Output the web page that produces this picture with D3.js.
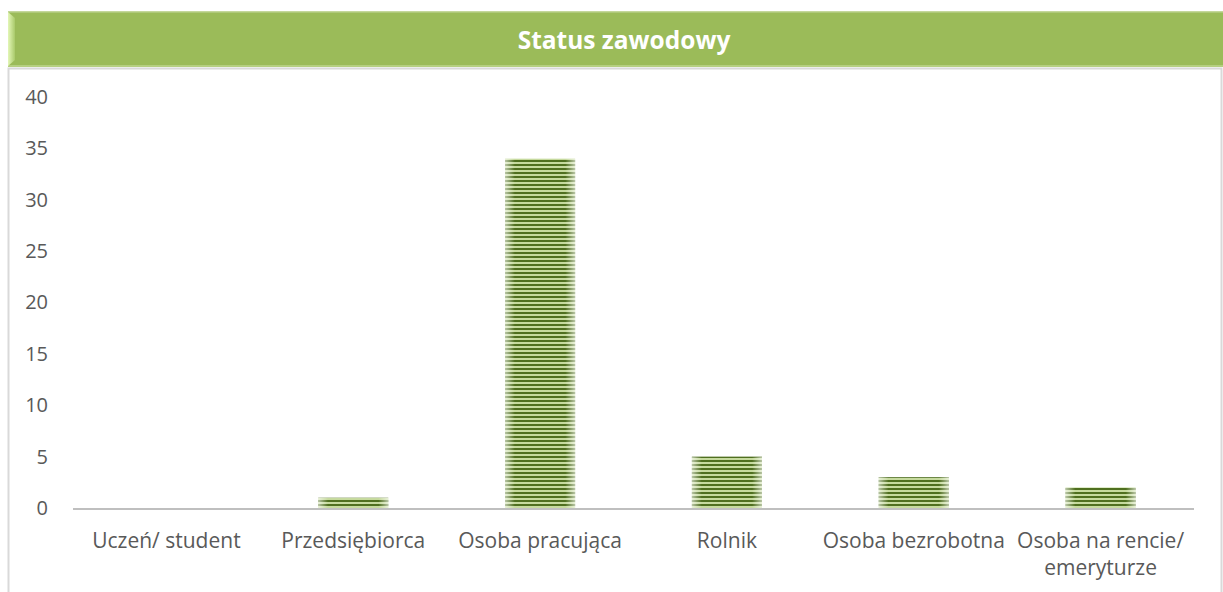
<!DOCTYPE html>
<html>
<head>
<meta charset="utf-8">
<script src="https://cdn.jsdelivr.net/npm/d3@7"></script>
<style>
  body { margin: 0; background: #fff; }
  text { font-family: "Open Sans", "Noto Sans", sans-serif; }
</style>
</head>
<body>
<div id="chart"></div>
<script>
(function(){

    // Data
    const categories = ["Uczeń/ student", "Przedsiębiorca", "Osoba pracująca", "Rolnik", "Osoba bezrobotna", "Osoba na rencie/ emeryturze"];
    const values = [0, 1, 34, 5, 3, 2];
    const yTicks = [0, 5, 10, 15, 20, 25, 30, 35, 40];
    const title = "Status zawodowy";

    const width = 1223, height = 592;
    const margin = {left: 73, right: 29, top: 97, bottom: 84};

    let svg = d3.select("#chart")
        .append("svg")
        .attr("width", width)
        .attr("height", height);

    let defs = svg.append("defs");

    // striped fill for bars
    let pat = defs.append("pattern")
        .attr("id", "stripes")
        .attr("patternUnits", "userSpaceOnUse")
        .attr("width", 8)
        .attr("height", 4);
    pat.append("rect").attr("width", 8).attr("height", 4).attr("fill", "#c6da9e");
    pat.append("rect").attr("width", 8).attr("height", 2).attr("fill", "#4f6f1f");

    // soft edges on bars
    let edge = defs.append("linearGradient").attr("id", "edge");
    edge.append("stop").attr("offset", "0%").attr("stop-color", "#fff").attr("stop-opacity", 0.6);
    edge.append("stop").attr("offset", "14%").attr("stop-color", "#fff").attr("stop-opacity", 0);
    edge.append("stop").attr("offset", "86%").attr("stop-color", "#fff").attr("stop-opacity", 0);
    edge.append("stop").attr("offset", "100%").attr("stop-color", "#fff").attr("stop-opacity", 0.6);

    // title banner bevel
    let bev = defs.append("linearGradient").attr("id", "bevel")
        .attr("x1", 0).attr("x2", 1).attr("y1", 0).attr("y2", 0);
    bev.append("stop").attr("offset", "0%").attr("stop-color", "#e4f7b8");
    bev.append("stop").attr("offset", "100%").attr("stop-color", "#a9c96a");

    // plot frame
    svg.append("rect")
        .attr("x", 8.5).attr("y", 68.5)
        .attr("width", 1213).attr("height", 540)
        .attr("fill", "#fff")
        .attr("stroke", "#d9d9d9")
        .attr("stroke-width", 2);

    // title banner
    svg.append("rect")
        .attr("x", 8).attr("y", 11)
        .attr("width", 1215).attr("height", 56)
        .attr("fill", "#9bbb59");
    svg.append("rect")
        .attr("x", 8).attr("y", 11)
        .attr("width", 1215).attr("height", 1.5)
        .attr("fill", "#c4d79b");
    svg.append("rect")
        .attr("x", 8).attr("y", 65)
        .attr("width", 1215).attr("height", 2)
        .attr("fill", "#b5cf80");
    svg.append("path")
        .attr("d", "M8,12 L15,18 L15,60 L8,66 Z")
        .attr("fill", "url(#bevel)");

    svg.append("text")
        .attr("x", 624)
        .attr("y", 40)
        .attr("dy", "0.35em")
        .attr("text-anchor", "middle")
        .attr("fill", "#fff")
        .style("font-size", "24.5px")
        .style("font-weight", "bold")
        .text(title);

    let g = svg.append("g");

    // scales
    let x = d3.scaleBand()
        .domain(categories)
        .range([margin.left, width - margin.right])
        .paddingInner(0.625)
        .paddingOuter(0.3125);

    let y = d3.scaleLinear()
        .domain([0, 40])
        .range([height - margin.bottom, margin.top]);

    // y tick labels
    g.append("g")
        .call(d3.axisLeft(y).tickValues(yTicks).tickSize(0).tickPadding(0))
        .attr("transform", `translate(48, 0)`)
        .call(a => a.select(".domain").remove())
        .selectAll("text")
        .attr("fill", "#595959")
        .style("font-size", "20px")
        .style("font-family", "'Open Sans', sans-serif");

    // bars
    let bars = g.selectAll(".bar").data(values);
    bars.enter()
        .append("rect")
        .attr("x", function(d, i) { return x(categories[i]); })
        .attr("y", function(d) { return y(d); })
        .attr("width", x.bandwidth())
        .attr("height", function(d) { return y(0) - y(d); })
        .attr("fill", "url(#stripes)");
    bars.enter()
        .append("rect")
        .attr("x", function(d, i) { return x(categories[i]); })
        .attr("y", function(d) { return y(d); })
        .attr("width", x.bandwidth())
        .attr("height", function(d) { return y(0) - y(d); })
        .attr("fill", "url(#edge)");

    // x axis line
    g.append("line")
        .attr("x1", margin.left).attr("x2", width - margin.right)
        .attr("y1", y(0) + 1).attr("y2", y(0) + 1)
        .attr("stroke", "#bfbfbf")
        .attr("stroke-width", 2);

    // category labels (wrapped)
    const lines = {"Osoba na rencie/ emeryturze": ["Osoba na rencie/", "emeryturze"]};
    let labels = g.selectAll(".cat").data(categories).enter()
        .append("text")
        .attr("text-anchor", "middle")
        .attr("fill", "#595959")
        .style("font-size", "21px")
        .attr("transform", function(d) { return `translate(${x(d) + x.bandwidth() / 2}, ${y(0) + 33})`; });
    labels.each(function(d) {
        let parts = lines[d] || [d];
        let t = d3.select(this);
        parts.forEach(function(p, k) {
            t.append("tspan").attr("x", 0).attr("dy", k === 0 ? "0.35em" : "1.25em").text(p);
        });
    });

})();
</script>
</body>
</html>
